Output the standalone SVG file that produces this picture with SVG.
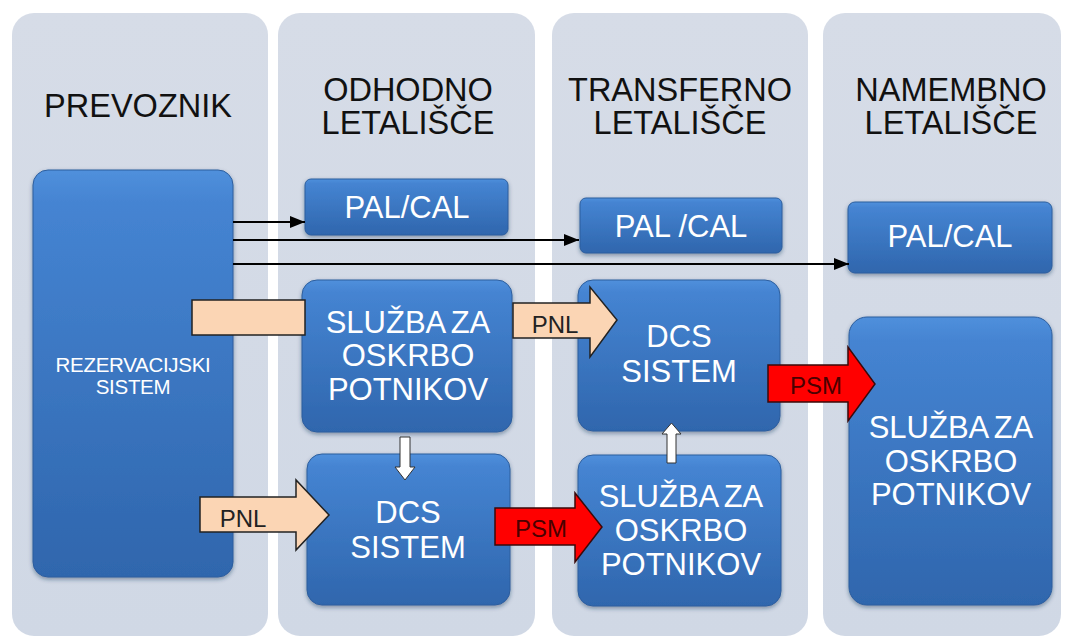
<svg xmlns="http://www.w3.org/2000/svg" width="1070" height="637" viewBox="0 0 1070 637">
<defs>
<linearGradient id="nodeGrad" x1="0" y1="0" x2="0" y2="1">
<stop offset="0" stop-color="#5090dc"/>
<stop offset="0.08" stop-color="#4584d2"/>
<stop offset="1" stop-color="#2f66ad"/>
</linearGradient>
<linearGradient id="colGrad" x1="0" y1="0" x2="0" y2="1">
<stop offset="0" stop-color="#d6dce7"/>
<stop offset="1" stop-color="#d0d8e5"/>
</linearGradient>
<filter id="shadow" x="-10%" y="-10%" width="120%" height="125%">
<feDropShadow dx="0" dy="2" stdDeviation="2" flood-color="#1c3558" flood-opacity="0.45"/>
</filter>
<marker id="arrow" markerUnits="userSpaceOnUse" markerWidth="16" markerHeight="12" refX="15" refY="6" orient="auto">
<path d="M0,0 L15,6 L0,12 z" fill="#000"/>
</marker>
</defs>
<style>
.col{fill:url(#colGrad);}
.node{fill:url(#nodeGrad);stroke:#2d5e9e;stroke-width:1;filter:url(#shadow);}
.head{font-family:"Liberation Sans",Arial,sans-serif;font-size:32.5px;fill:#111;text-anchor:middle;}
.nt{font-family:"Liberation Sans",Arial,sans-serif;font-size:31px;fill:#fff;text-anchor:middle;}
.sp{word-spacing:-2.5px;}
.small{font-family:"Liberation Sans",Arial,sans-serif;font-size:20.5px;fill:#fff;text-anchor:middle;letter-spacing:-0.3px;}
.line{stroke:#000;stroke-width:2;fill:none;marker-end:url(#arrow);}
.peach{fill:#fbd5b4;stroke:#222;stroke-width:1.5;}
.red{fill:#ff0000;stroke:#3a0a0a;stroke-width:1.5;}
.white{fill:#fff;stroke:#333;stroke-width:1;}
.lbl{font-family:"Liberation Sans",Arial,sans-serif;font-size:24px;text-anchor:middle;}
</style>
<rect width="1070" height="637" fill="#fff"/>
<g id="columns">
<rect class="col" x="12" y="13" width="256" height="623" rx="22"/>
<rect class="col" x="278" y="13" width="257" height="623" rx="22"/>
<rect class="col" x="552" y="13" width="256" height="623" rx="22"/>
<rect class="col" x="823" y="13" width="238" height="623" rx="22"/>
</g>
<g id="headings">
<text class="head" x="138" y="117">PREVOZNIK</text>
<text class="head" x="408" y="101">ODHODNO</text>
<text class="head" x="408" y="134">LETALIŠČE</text>
<text class="head" x="680" y="101">TRANSFERNO</text>
<text class="head" x="680" y="134">LETALIŠČE</text>
<text class="head" x="951" y="101">NAMEMBNO</text>
<text class="head" x="951" y="134">LETALIŠČE</text>
</g>
<g id="rezervacijski">
<rect class="node" x="33" y="170" width="200" height="407" rx="15"/>
<text class="small" x="133" y="372">REZERVACIJSKI</text>
<text class="small" x="133" y="394">SISTEM</text>
</g>
<g id="palcal-odhodno">
<rect class="node" x="305" y="179" width="203" height="56" rx="6"/>
<text class="nt" x="407" y="218">PAL/CAL</text>
</g>
<g id="palcal-transferno">
<rect class="node" x="580" y="198" width="202" height="55" rx="6"/>
<text class="nt" x="681" y="237">PAL /CAL</text>
</g>
<g id="palcal-namembno">
<rect class="node" x="848" y="202" width="204" height="71" rx="7"/>
<text class="nt" x="950" y="247">PAL/CAL</text>
</g>
<g id="sluzba-odhodno">
<rect class="node" x="302" y="280" width="210" height="152" rx="15"/>
<text class="nt sp" x="408" y="333">SLUŽBA ZA</text>
<text class="nt" x="408" y="366">OSKRBO</text>
<text class="nt" x="408" y="400">POTNIKOV</text>
</g>
<g id="dcs-odhodno">
<rect class="node" x="307" y="454" width="203" height="151" rx="15"/>
<text class="nt" x="408" y="523">DCS</text>
<text class="nt" x="408" y="558">SISTEM</text>
</g>
<g id="dcs-transferno">
<rect class="node" x="578" y="280" width="202" height="151" rx="15"/>
<text class="nt" x="679" y="347">DCS</text>
<text class="nt" x="679" y="382">SISTEM</text>
</g>
<g id="sluzba-transferno">
<rect class="node" x="578" y="455" width="203" height="151" rx="15"/>
<text class="nt sp" x="681" y="507">SLUŽBA ZA</text>
<text class="nt" x="681" y="541">OSKRBO</text>
<text class="nt" x="681" y="575">POTNIKOV</text>
</g>
<g id="sluzba-namembno">
<rect class="node" x="849" y="317" width="203" height="288" rx="18"/>
<text class="nt sp" x="951" y="438">SLUŽBA ZA</text>
<text class="nt" x="951" y="472">OSKRBO</text>
<text class="nt" x="951" y="505">POTNIKOV</text>
</g>
<g id="connectors">
<line class="line" x1="233" y1="222" x2="305" y2="222"/>
<line class="line" x1="233" y1="240" x2="579" y2="240"/>
<line class="line" x1="233" y1="264" x2="849" y2="264"/>
<rect class="peach" x="192" y="300" width="113" height="35"/>
<polygon class="peach" points="513,303 590,303 590,287 617,320 590,357 590,338 513,338"/>
<text class="lbl" x="555" y="333" fill="#222">PNL</text>
<polygon class="peach" points="200,497 296,497 296,480 329,515 296,550 296,532 200,532"/>
<text class="lbl" x="243" y="527" fill="#222">PNL</text>
<polygon class="red" points="495,508 575,508 575,493 602,527 575,562 575,545 495,545"/>
<text class="lbl" x="541" y="537" fill="#4a0000">PSM</text>
<polygon class="red" points="768,365 848,365 848,347 875,384 848,421 848,402 768,402"/>
<text class="lbl" x="816" y="394" fill="#4a0000">PSM</text>
<polygon class="white" points="400,437 410,437 410,467 415,467 405,480 395,467 400,467"/>
<polygon class="white" points="667,463 667,434 662,434 671.5,423 681,434 676,434 676,463"/>
</g>
</svg>
